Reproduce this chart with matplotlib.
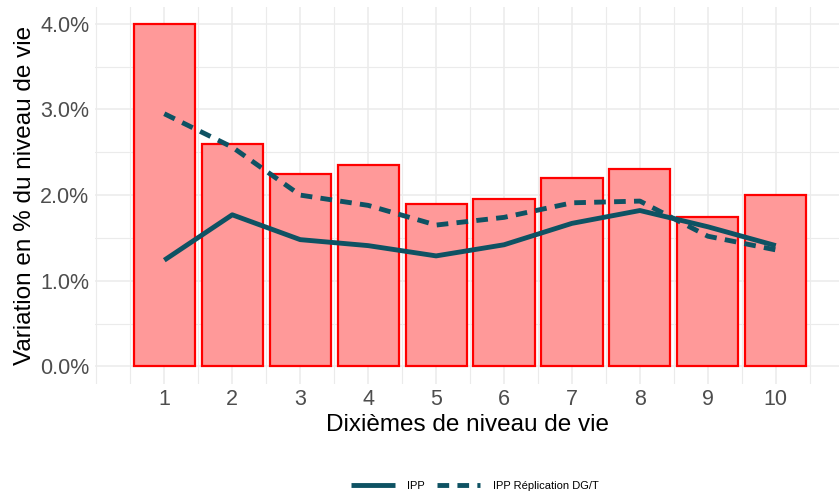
import matplotlib
matplotlib.use('Agg')
import matplotlib.pyplot as plt
import numpy as np
from matplotlib.ticker import FuncFormatter, MultipleLocator

plt.rcParams['font.family'] = ['Liberation Sans', 'DejaVu Sans']

# Data
deciles = [1, 2, 3, 4, 5, 6, 7, 8, 9, 10]
bars_pct = [4.00, 2.60, 2.25, 2.35, 1.90, 1.95, 2.20, 2.30, 1.75, 2.00]
ipp = [1.24, 1.77, 1.48, 1.41, 1.29, 1.42, 1.67, 1.82, 1.63, 1.41]
ipp_dgt = [2.95, 2.56, 2.00, 1.88, 1.65, 1.74, 1.91, 1.93, 1.52, 1.36]

LINE_COLOR = '#0E5263'
GRID_COLOR = '#EBEBEB'
TEXT_GREY = '#4D4D4D'

fig = plt.figure(figsize=(8.39, 4.91), dpi=100)
ax = fig.add_axes([95 / 839, 1 - 383.5 / 491, 1 - 95 / 839, (383.5 - 6.7) / 491])

# Bars
ax.bar(deciles, bars_pct, width=0.9, color='#FF9999', edgecolor='#FF0000',
       linewidth=1.6, zorder=2)

# Lines
ax.plot(deciles, ipp, color=LINE_COLOR, linewidth=3.5, solid_capstyle='butt',
        zorder=3, label='IPP')
ax.plot(deciles, ipp_dgt, color=LINE_COLOR, linewidth=3.5, dashes=(2.4, 1.7),
        dash_capstyle='butt', zorder=3, label='IPP Réplication DG/T')

# Axes
ax.set_xlim(-0.02, 10.93)
ax.set_ylim(-0.2, 4.2)
ax.set_xticks(deciles)
ax.xaxis.set_minor_locator(MultipleLocator(0.5))
ax.yaxis.set_major_locator(MultipleLocator(1.0))
ax.yaxis.set_minor_locator(MultipleLocator(0.5))
ax.yaxis.set_major_formatter(FuncFormatter(lambda v, p: f'{v:.1f}%'))
ax.tick_params(which='both', length=0, labelsize=15.5, colors=TEXT_GREY)
ax.tick_params(axis='x', pad=4)
ax.tick_params(axis='y', pad=4)
ax.grid(True, which='major', color=GRID_COLOR, linewidth=1.1, zorder=0)
ax.grid(True, which='minor', color=GRID_COLOR, linewidth=0.8, zorder=0)
ax.set_axisbelow(True)
for s in ax.spines.values():
    s.set_visible(False)

ax.set_xlabel('Dixièmes de niveau de vie', fontsize=17.5, color='black', labelpad=3)
ax.set_ylabel('Variation en % du niveau de vie', fontsize=17.5, color='black', labelpad=3)

fig.legend(loc='center', bbox_to_anchor=(0.566, 5 / 491), ncol=2, frameon=False,
           fontsize=8, handlelength=3.9, columnspacing=1.1, handletextpad=1.1)

plt.savefig('out.png', dpi=100)
